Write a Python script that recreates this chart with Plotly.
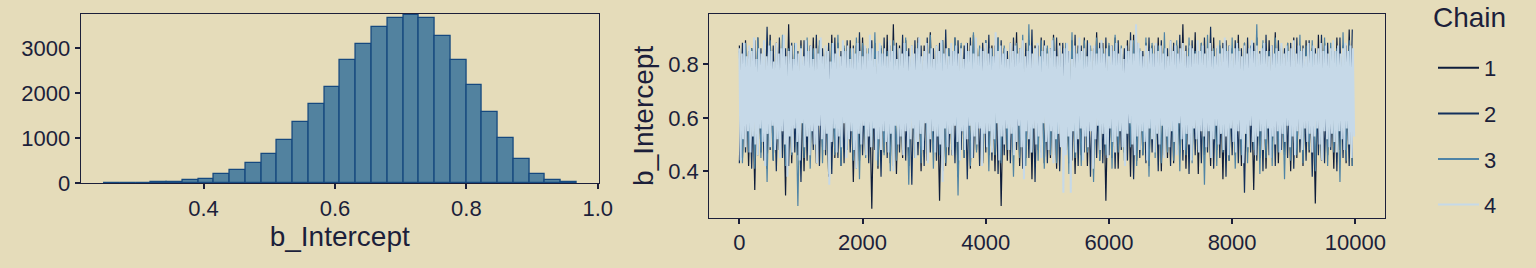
import numpy as np
import plotly.graph_objects as go

# ---------------- data ----------------
# Histogram of b_Intercept (30 bins)
BIN_START = 0.248
BIN_WIDTH = 0.024
HIST_COUNTS = [7, 7, 10, 22, 30, 60, 96, 200, 296, 443, 643, 961, 1360, 1766, 2135,
               2741, 3089, 3473, 3665, 3739, 3665, 3266, 2734, 2187, 1567, 1005, 539, 207, 59, 15]
HIST_XTICKS = [0.4, 0.6, 0.8, 1.0]
HIST_XTICK_TEXT = ["0.4", "0.6", "0.8", "1.0"]
HIST_YTICKS = [0, 1000, 2000, 3000]

# Trace plot: thinned draws per chain (value read at every ITER_STEP iterations)
CHAIN_NAMES = ["1", "2", "3", "4"]
ITER_STEP_DARK = 50
ITER_STEP_LIGHT = 20
TRACE_XTICKS = [0, 2000, 4000, 6000, 8000, 10000]
TRACE_XTICK_TEXT = ["0", "2000", "4000", "6000", "8000", "10000"]
TRACE_YTICKS = [0.4, 0.6, 0.8]
TRACE_YTICK_TEXT = ["0.4", "0.6", "0.8"]

CHAIN1 = [
    0.87,0.45,0.89,0.42,0.86,0.33,0.90,0.47,0.85,0.41,0.91,0.44,0.88,0.48,0.86,0.31,0.95,0.43,0.87,0.46,
    0.89,0.40,0.86,0.47,0.90,0.43,0.87,0.49,0.85,0.38,0.91,0.45,0.88,0.42,0.86,0.48,0.89,0.36,0.87,0.44,
    0.90,0.46,0.85,0.26,0.88,0.41,0.86,0.47,0.91,0.43,0.95,0.39,0.87,0.45,0.89,0.42,0.86,0.48,0.90,0.40,
    0.87,0.44,0.92,0.47,0.85,0.29,0.89,0.42,0.86,0.46,0.90,0.38,0.87,0.45,0.88,0.41,0.91,0.48,0.86,0.43,
    0.89,0.46,0.87,0.40,0.90,0.27,0.86,0.44,0.88,0.47,0.92,0.42,0.85,0.45,0.89,0.37,0.87,0.48,0.90,0.43,
    0.86,0.45,0.91,0.41,0.88,0.47,0.85,0.43,0.89,0.39,0.87,0.46,0.90,0.42,0.86,0.48,0.92,0.44,0.88,0.29,
    0.87,0.45,0.90,0.41,0.86,0.47,0.89,0.38,0.91,0.44,0.85,0.46,0.88,0.42,0.87,0.48,0.90,0.40,0.86,0.45,
    0.89,0.43,0.87,0.47,0.95,0.41,0.86,0.45,0.92,0.39,0.88,0.46,0.85,0.42,0.90,0.48,0.87,0.37,0.89,0.44,
    0.86,0.46,0.91,0.42,0.88,0.47,0.85,0.33,0.90,0.45,0.87,0.41,0.89,0.48,0.92,0.43,0.86,0.46,0.88,0.40,
    0.90,0.45,0.87,0.42,0.89,0.47,0.86,0.28,0.91,0.44,0.88,0.46,0.85,0.41,0.90,0.48,0.87,0.43,0.93,0.42,
]
CHAIN2 = [
    0.43,0.88,0.47,0.85,0.41,0.89,0.46,0.86,0.44,0.94,0.48,0.87,0.40,0.90,0.45,0.86,0.42,0.88,0.47,0.85,
    0.36,0.89,0.44,0.87,0.48,0.91,0.42,0.86,0.46,0.88,0.39,0.90,0.45,0.85,0.43,0.89,0.47,0.87,0.41,0.92,
    0.46,0.86,0.43,0.89,0.48,0.85,0.38,0.90,0.45,0.87,0.42,0.88,0.47,0.91,0.44,0.86,0.35,0.89,0.46,0.87,
    0.42,0.90,0.47,0.86,0.44,0.88,0.40,0.93,0.46,0.85,0.43,0.89,0.48,0.87,0.37,0.90,0.45,0.86,0.42,0.88,
    0.47,0.91,0.44,0.87,0.39,0.89,0.46,0.85,0.43,0.90,0.48,0.86,0.41,0.88,0.45,0.93,0.36,0.87,0.47,0.89,
    0.43,0.86,0.46,0.90,0.40,0.88,0.48,0.85,0.44,0.91,0.42,0.87,0.47,0.89,0.38,0.86,0.45,0.88,0.43,0.90,
    0.46,0.87,0.41,0.89,0.48,0.86,0.44,0.92,0.37,0.88,0.45,0.85,0.43,0.90,0.47,0.87,0.40,0.89,0.46,0.86,
    0.42,0.88,0.48,0.91,0.44,0.87,0.39,0.89,0.46,0.85,0.43,0.90,0.47,0.94,0.41,0.86,0.45,0.88,0.38,0.87,
    0.46,0.89,0.43,0.86,0.32,0.90,0.47,0.88,0.44,0.85,0.40,0.91,0.46,0.87,0.42,0.89,0.48,0.86,0.45,0.88,
    0.41,0.90,0.47,0.87,0.44,0.89,0.38,0.86,0.46,0.91,0.43,0.88,0.48,0.85,0.40,0.90,0.45,0.87,0.42,0.93,
]
CHAIN3 = [
    0.85,0.43,0.88,0.47,0.86,0.41,0.90,0.45,0.87,0.36,0.89,0.44,0.85,0.48,0.91,0.42,0.86,0.46,0.88,0.27,
    0.87,0.45,0.90,0.41,0.86,0.47,0.89,0.43,0.85,0.39,0.88,0.46,0.91,0.42,0.87,0.48,0.86,0.44,0.90,0.37,
    0.88,0.45,0.86,0.49,0.92,0.42,0.87,0.46,0.85,0.40,0.89,0.44,0.86,0.48,0.90,0.35,0.87,0.45,0.88,0.43,
    0.85,0.47,0.91,0.41,0.87,0.46,0.89,0.43,0.86,0.48,0.90,0.31,0.88,0.45,0.85,0.42,0.92,0.47,0.87,0.44,
    0.89,0.40,0.86,0.46,0.90,0.43,0.87,0.48,0.85,0.38,0.88,0.45,0.91,0.42,0.95,0.47,0.86,0.44,0.89,0.41,
    0.87,0.46,0.90,0.43,0.85,0.48,0.88,0.39,0.92,0.45,0.86,0.42,0.89,0.47,0.87,0.36,0.90,0.44,0.86,0.46,
    0.88,0.41,0.91,0.47,0.87,0.44,0.85,0.49,0.89,0.42,0.86,0.46,0.90,0.38,0.88,0.45,0.87,0.43,0.92,0.47,
    0.86,0.44,0.89,0.40,0.87,0.46,0.90,0.43,0.85,0.48,0.88,0.35,0.91,0.45,0.86,0.42,0.89,0.47,0.87,0.44,
    0.90,0.41,0.86,0.46,0.88,0.43,0.87,0.48,0.95,0.39,0.89,0.45,0.85,0.42,0.90,0.47,0.87,0.37,0.88,0.44,
    0.86,0.46,0.91,0.43,0.87,0.48,0.89,0.40,0.85,0.45,0.90,0.42,0.88,0.47,0.86,0.36,0.92,0.44,0.89,0.42,
]
CHAIN4 = [
    0.86,0.44,0.84,0.52,0.88,0.49,0.83,0.55,0.87,0.47,0.85,0.53,0.90,0.50,0.82,0.46,0.86,0.56,0.84,0.51,
    0.89,0.42,0.83,0.54,0.87,0.49,0.85,0.57,0.81,0.48,0.88,0.52,0.84,0.45,0.86,0.55,0.91,0.50,0.83,0.38,
    0.85,0.53,0.87,0.47,0.82,0.56,0.88,0.51,0.84,0.44,0.86,0.58,0.83,0.49,0.89,0.53,0.85,0.46,0.87,0.55,
    0.82,0.50,0.86,0.43,0.84,0.57,0.90,0.52,0.83,0.48,0.87,0.54,0.85,0.35,0.81,0.51,0.88,0.56,0.84,0.47,
    0.86,0.53,0.83,0.49,0.89,0.58,0.85,0.45,0.87,0.52,0.82,0.55,0.86,0.48,0.84,0.41,0.88,0.54,0.85,0.50,
    0.83,0.57,0.87,0.46,0.84,0.53,0.91,0.49,0.86,0.56,0.82,0.44,0.85,0.52,0.88,0.48,0.84,0.55,0.86,0.51,
    0.83,0.47,0.89,0.54,0.85,0.40,0.87,0.57,0.82,0.50,0.86,0.53,0.84,0.46,0.88,0.55,0.85,0.49,0.83,0.52,
    0.87,0.56,0.84,0.45,0.86,0.51,0.90,0.54,0.83,0.48,0.85,0.58,0.88,0.43,0.84,0.52,0.86,0.55,0.82,0.47,
    0.87,0.53,0.85,0.50,0.89,0.36,0.84,0.56,0.86,0.49,0.83,0.54,0.88,0.46,0.85,0.57,0.87,0.51,0.84,0.44,
    0.86,0.55,0.82,0.48,0.88,0.52,0.85,0.57,0.87,0.45,0.84,0.53,0.90,0.50,0.83,0.56,0.86,0.42,0.85,0.54,
    0.88,0.49,0.84,0.55,0.86,0.47,0.83,0.52,0.92,0.58,0.85,0.44,0.87,0.53,0.84,0.50,0.86,0.56,0.82,0.48,
    0.88,0.54,0.85,0.46,0.87,0.51,0.84,0.57,0.86,0.49,0.89,0.37,0.83,0.55,0.85,0.52,0.87,0.47,0.84,0.56,
    0.86,0.50,0.88,0.53,0.83,0.45,0.85,0.58,0.87,0.51,0.84,0.48,0.86,0.55,0.89,0.43,0.85,0.52,0.83,0.54,
    0.87,0.49,0.84,0.32,0.86,0.46,0.88,0.53,0.85,0.32,0.82,0.55,0.87,0.47,0.84,0.52,0.90,0.56,0.85,0.44,
    0.86,0.53,0.83,0.49,0.88,0.55,0.85,0.41,0.87,0.52,0.84,0.57,0.86,0.48,0.89,0.54,0.84,0.50,0.86,0.45,
    0.83,0.56,0.87,0.51,0.85,0.47,0.88,0.53,0.84,0.55,0.86,0.49,0.82,0.42,0.87,0.54,0.85,0.58,0.89,0.50,
    0.84,0.46,0.95,0.53,0.88,0.48,0.85,0.55,0.83,0.51,0.87,0.44,0.85,0.56,0.86,0.52,0.84,0.47,0.88,0.54,
    0.85,0.50,0.87,0.57,0.84,0.45,0.86,0.53,0.83,0.49,0.89,0.55,0.85,0.51,0.87,0.46,0.84,0.58,0.86,0.52,
    0.88,0.48,0.85,0.54,0.83,0.50,0.87,0.44,0.86,0.56,0.84,0.52,0.89,0.47,0.85,0.55,0.87,0.53,0.84,0.49,
    0.86,0.55,0.88,0.45,0.85,0.52,0.83,0.57,0.87,0.50,0.84,0.54,0.86,0.48,0.90,0.53,0.85,0.46,0.87,0.56,
    0.84,0.51,0.86,0.47,0.88,0.55,0.85,0.52,0.83,0.43,0.87,0.54,0.84,0.49,0.86,0.57,0.89,0.51,0.85,0.46,
    0.87,0.53,0.84,0.55,0.86,0.48,0.88,0.52,0.85,0.56,0.83,0.45,0.87,0.53,0.84,0.50,0.86,0.55,0.85,0.47,
    0.88,0.54,0.84,0.51,0.87,0.57,0.85,0.49,0.86,0.53,0.89,0.46,0.84,0.55,0.87,0.52,0.85,0.48,0.86,0.56,
    0.83,0.51,0.88,0.54,0.85,0.47,0.87,0.53,0.84,0.56,0.86,0.50,0.88,0.44,0.85,0.55,0.87,0.52,0.84,0.49,
    0.86,0.54,0.89,0.51,0.85,0.47,0.87,0.55,0.84,0.52,0.86,0.48,0.88,0.56,0.85,0.50,0.87,0.45,0.86,0.53,
]

# ---------------- style ----------------
BG = "#E5DCBA"
INK = "#1C1F3A"
FONT = "Liberation Sans, Arial, sans-serif"
HIST_FILL = "#52829F"
HIST_EDGE = "#16497F"
CHAIN_COLORS = ["#0E1D3B", "#13305C", "#4F84A6", "#C6D9E8"]

W, H = 1536, 268

def dom_x(a, b):
    return [a / W, b / W]

def dom_y(top, bottom):
    return [(H - bottom) / H, (H - top) / H]

fig = go.Figure()

# histogram bars
centers = [BIN_START + BIN_WIDTH * (i + 0.5) for i in range(len(HIST_COUNTS))]
fig.add_trace(go.Bar(
    x=centers, y=HIST_COUNTS, width=BIN_WIDTH,
    marker=dict(color=HIST_FILL, line=dict(color=HIST_EDGE, width=1.3)),
    xaxis="x", yaxis="y", showlegend=False, hoverinfo="x+y",
))

# trace lines
chains = [CHAIN1, CHAIN2, CHAIN3, CHAIN4]
steps = [ITER_STEP_DARK, ITER_STEP_DARK, ITER_STEP_DARK, ITER_STEP_LIGHT]
widths = [1.2, 1.2, 1.2, 2.0]
for name, vals, step, col, w in zip(CHAIN_NAMES, chains, steps, CHAIN_COLORS, widths):
    it = np.arange(len(vals)) * step + 1
    fig.add_trace(go.Scatter(
        x=it, y=vals, mode="lines", line=dict(color=col, width=w),
        xaxis="x2", yaxis="y2", showlegend=False, name=name,
    ))
# legend entries
for name, col in zip(CHAIN_NAMES, CHAIN_COLORS):
    fig.add_trace(go.Scatter(
        x=[None], y=[None], mode="lines", line=dict(color=col, width=2),
        xaxis="x2", yaxis="y2", name=name, legendgroup=name, showlegend=True,
    ))

axis_common = dict(
    showline=True, mirror=True, linecolor=INK, linewidth=1.3,
    ticks="outside", ticklen=5, tickwidth=1.5, tickcolor=INK,
    showgrid=False, zeroline=False, automargin=False,
    tickfont=dict(family=FONT, size=22, color=INK),
)
title_font = dict(family=FONT, size=28, color=INK)

fig.update_layout(
    width=W, height=H,
    margin=dict(l=0, r=0, t=0, b=0),
    paper_bgcolor=BG, plot_bgcolor=BG,
    font=dict(family=FONT, color=INK),
    bargap=0,
    xaxis=dict(domain=dom_x(80.7, 598.7), range=[0.213, 1.0015],
               tickvals=HIST_XTICKS, ticktext=HIST_XTICK_TEXT,
               title=dict(text="b_Intercept", font=title_font, standoff=6),
               anchor="y", **axis_common),
    yaxis=dict(domain=dom_y(14, 183), range=[0, 3756],
               tickvals=HIST_YTICKS,
               anchor="x", **axis_common),
    xaxis2=dict(domain=dom_x(709.3, 1385.3), range=[-487, 10487],
                tickvals=TRACE_XTICKS, ticktext=TRACE_XTICK_TEXT,
                anchor="y2", **axis_common),
    yaxis2=dict(domain=dom_y(14, 217.7), range=[0.2266, 0.988],
                tickvals=TRACE_YTICKS, ticktext=TRACE_YTICK_TEXT,
                title=dict(text="b_Intercept", font=title_font, standoff=6),
                anchor="x2", **axis_common),
    legend=dict(
        x=1433 / W, y=(H - 47) / H, xanchor="left", yanchor="top",
        bgcolor="rgba(0,0,0,0)", borderwidth=0,
        font=dict(family=FONT, size=22, color=INK),
        tracegroupgap=14, itemwidth=41,
    ),
    annotations=[dict(
        text="Chain", x=1431 / W, y=(H - 18) / H, xref="paper", yref="paper",
        xanchor="left", yanchor="middle", showarrow=False, font=title_font,
    )],
)

fig.write_html("out.html")
